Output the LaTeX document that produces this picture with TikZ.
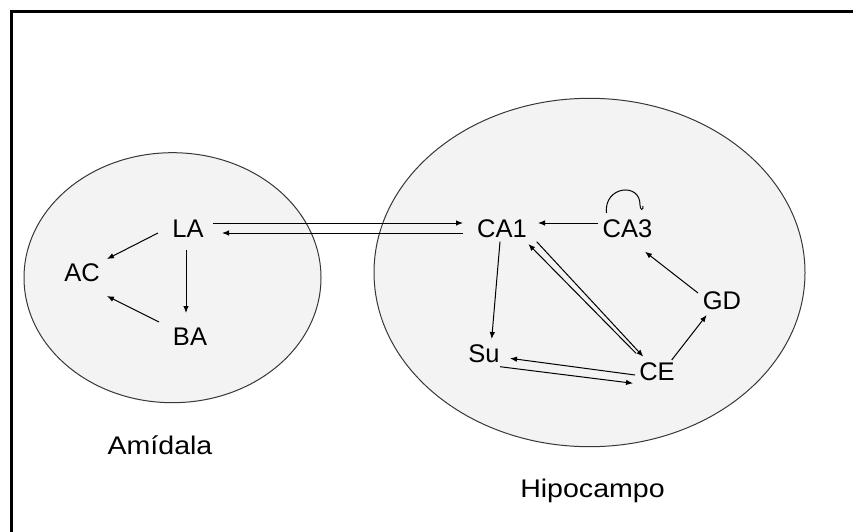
\documentclass[tikz,border=0pt]{standalone}
\usepackage{fontspec}
\setmainfont{Liberation Sans}
\usetikzlibrary{arrows.meta}
\definecolor{regionfill}{RGB}{243,243,243}
\definecolor{regionline}{RGB}{55,55,55}
\tikzset{
  region/.style={draw=regionline, line width=1pt, fill=regionfill},
  area/.style={inner sep=0pt, font=\fontsize{25.5}{30}\selectfont},
  caption/.style={inner sep=0pt, anchor=base, font=\fontsize{25.5}{30}\selectfont},
  link/.style={line width=1pt, -{Latex[length=7pt,width=5.5pt]}},
  frame/.style={line width=3pt, black}
}
\begin{document}
\begin{tikzpicture}[x=1pt, y=-1pt]
  \useasboundingbox (0,0) rectangle (853,532);
  % outer frame (only the left and top edges fall inside the page)
  \draw[frame] (11.5,545) -- (11.5,11.5) -- (870,11.5);

  % the two regions
  \draw[region] (172.5,277.7) ellipse [x radius=148.5, y radius=125];
  \draw[region] (589.5,272.5) ellipse [x radius=215.5, y radius=174.2];

  % amygdala nuclei
  \node[area] (LA) at (188,229) {LA};
  \node[area] (AC) at (82,273) {AC};
  \node[area] (BA) at (190,337) {BA};

  % hippocampal fields
  \node[area] (CA1) at (502,229) {CA1};
  \node[area] (CA3) at (627.5,229) {CA3};
  \node[area] (GD) at (722,301) {GD};
  \node[area] (Su) at (484,354) {Su};
  \node[area] (CE) at (657,372) {CE};

  % region names
  \node[caption] (amig) at (160,454) {\scalebox{1.12}[1]{Amídala}};
  \node[caption] (hipo) at (592.5,497) {\scalebox{1.12}[1]{Hipocampo}};

  % amygdala <-> hippocampus
  \draw[link] ([shift={(25,-6)}]LA.center) -- ([shift={(-39,-6)}]CA1.center);
  \draw[link] ([shift={(-39,4)}]CA1.center) -- ([shift={(34,4)}]LA.center);

  % within the amygdala
  \draw[link] ([shift={(-30,4)}]LA.center) -- ([shift={(25,-14)}]AC.center);
  \draw[link] ([shift={(-2,21)}]LA.center) -- ([shift={(-4,-24)}]BA.center);
  \draw[link] ([shift={(-31,-15)}]BA.center) -- ([shift={(25,23)}]AC.center);

  % within the hippocampus
  \draw[link] ([shift={(-29.5,-6)}]CA3.center) -- ([shift={(36,-6)}]CA1.center);
  \draw[link] ([shift={(-2,12.7)}]CA1.center) -- ([shift={(7.7,-15)}]Su.center);
  \draw[link] ([shift={(-21,-18.7)}]CE.center) -- ([shift={(26.3,15)}]CA1.center);
  \draw[link] ([shift={(34.7,12.7)}]CA1.center) -- ([shift={(-13.7,-15.3)}]CE.center);
  \draw[link] ([shift={(-22,3)}]CE.center) -- ([shift={(26,4.3)}]Su.center);
  \draw[link] ([shift={(16,12.7)}]Su.center) -- ([shift={(-24,11.3)}]CE.center);
  \draw[link] ([shift={(14.7,-12)}]CE.center) -- ([shift={(-15.3,14)}]GD.center);
  \draw[link] ([shift={(-24,-8)}]GD.center) -- ([shift={(17.5,22.7)}]CA3.center);

  % recurrent loop on CA3
  \draw[line width=1pt]
    ([shift={(-21,-16)}]CA3.center)
      .. controls ([shift={(-24,-43)}]CA3.center) and ([shift={(13,-47)}]CA3.center)
      .. ([shift={(12.5,-24)}]CA3.center)
      .. controls ([shift={(12.5,-19)}]CA3.center) and ([shift={(16,-18)}]CA3.center)
      .. ([shift={(15.5,-23)}]CA3.center);
\end{tikzpicture}
\end{document}
